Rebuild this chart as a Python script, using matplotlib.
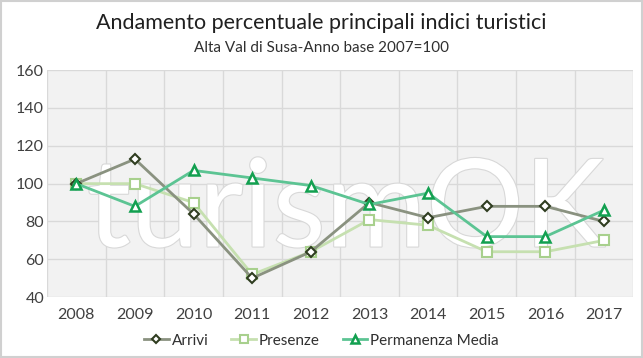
import matplotlib.pyplot as plt
import matplotlib.patheffects as pe
from matplotlib.patches import Rectangle

plt.rcParams['font.family'] = ['Lato', 'DejaVu Sans']

years = ['2008', '2009', '2010', '2011', '2012', '2013', '2014', '2015', '2016', '2017']
arrivi = [100, 113, 84, 50, 64, 90, 82, 88, 88, 80]
presenze = [100, 100, 90, 52, 64, 81, 78, 64, 64, 70]
permanenza = [100, 88, 107, 103, 99, 89, 95, 72, 72, 86]

fig = plt.figure(figsize=(6.43, 3.58), dpi=100)
fig.patches.append(Rectangle((0.002, 0.003), 0.996, 0.994, transform=fig.transFigure,
                             fill=False, edgecolor='#d0d0d0', linewidth=1.5))
ax = fig.add_axes([0.073, 0.17, 0.912, 0.634])
ax.set_facecolor('#f2f2f2')

x = list(range(len(years)))

# watermark
ax.text(4.6, 85, 'turismOK', fontsize=88, color='white', ha='center', va='center',
        zorder=1, family=['Lato', 'DejaVu Sans'],
        path_effects=[pe.withStroke(linewidth=1.6, foreground='#d8d8d8')])

ax.plot(x, arrivi, color='#8a9280', linewidth=2, marker='D', markersize=5,
        markerfacecolor='white', markeredgecolor='#2f3d20', markeredgewidth=1.5,
        label='Arrivi', zorder=4)
ax.plot(x, presenze, color='#c6e0b0', linewidth=2, marker='s', markersize=7,
        markerfacecolor='white', markeredgecolor='#a8d08d', markeredgewidth=1.5,
        label='Presenze', zorder=3)
ax.plot(x, permanenza, color='#5cc493', linewidth=2, marker='^', markersize=7,
        markerfacecolor='white', markeredgecolor='#12a050', markeredgewidth=1.8,
        label='Permanenza Media', zorder=5)

ax.set_xlim(-0.5, 9.5)
ax.set_ylim(40, 160)
ax.set_yticks(range(40, 161, 20))
ax.set_xticks(x)
ax.set_xticklabels(years)
ax.set_xticks([i + 0.5 for i in range(-1, 10)], minor=True)
ax.grid(True, which='major', axis='y', color='#d9d9d9', linewidth=1)
ax.grid(True, which='minor', axis='x', color='#d9d9d9', linewidth=1)
ax.tick_params(which='both', length=0, labelsize=11.5, colors='#404040', pad=8)
ax.tick_params(axis='y', pad=2)
for s in ax.spines.values():
    s.set_visible(False)
ax.set_axisbelow(True)

fig.text(0.5, 0.935, 'Andamento percentuale principali indici turistici',
         ha='center', va='center', fontsize=15.5, color='#202020')
fig.text(0.5, 0.865, 'Alta Val di Susa-Anno base 2007=100',
         ha='center', va='center', fontsize=11, color='#303030')

fig.legend(loc='lower center', bbox_to_anchor=(0.5, -0.01), ncol=3, frameon=False,
           fontsize=11, handlelength=1.6, handletextpad=0.2, columnspacing=1.5,
           markerscale=0.75, labelcolor='#303030')

fig.savefig('out.png', dpi=100)
